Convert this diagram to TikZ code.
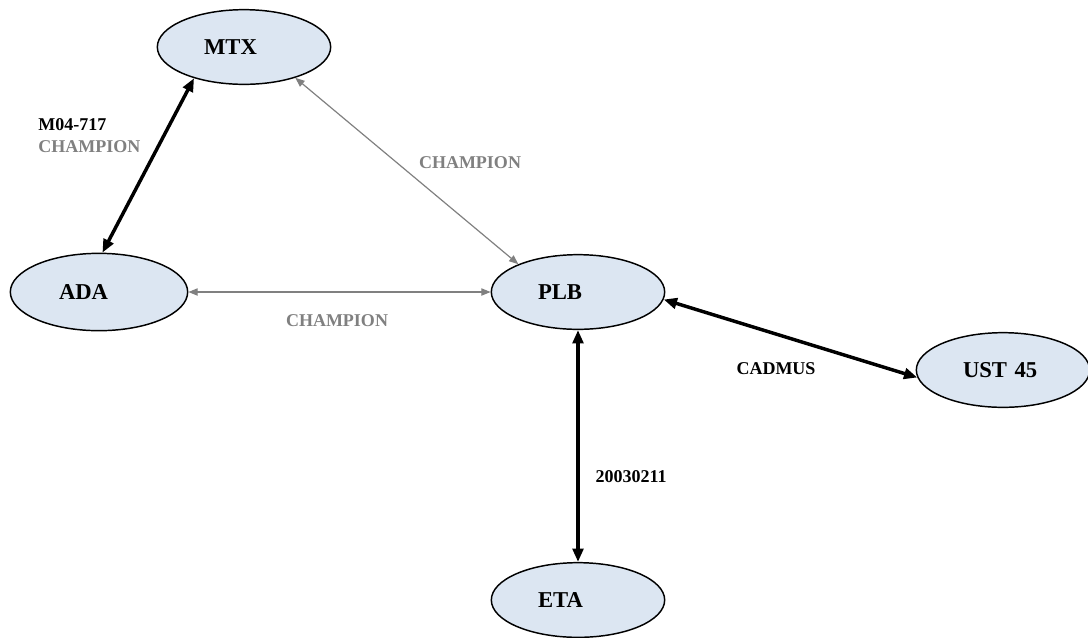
\documentclass[tikz,border=0pt]{standalone}
\usepackage{fontspec}
\setmainfont{Liberation Serif}
\usetikzlibrary{shapes.geometric,arrows.meta}
\definecolor{sitefill}{RGB}{220,230,242}
\definecolor{linkgray}{RGB}{128,128,128}

\begin{document}
\begin{tikzpicture}[
  x=0.75pt,y=-0.75pt,
  site/.style={ellipse, draw, line width=1.1pt, fill=sitefill, minimum width=130pt, minimum height=56pt, inner sep=0pt, text width=60pt, align=left, font=\fontsize{17}{20}\selectfont\bfseries},
  tag/.style={font=\fontsize{13.5}{16.5}\selectfont\bfseries, inner sep=0pt},
  strong/.style={{Triangle[length=10pt,width=8pt]}-{Triangle[length=10pt,width=8pt]}, line width=2.6pt},
  weak/.style={{Triangle[length=7pt,width=5.5pt]}-{Triangle[length=7pt,width=5.5pt]}, line width=0.9pt, draw=linkgray}
]
\useasboundingbox (0,0) rectangle (1088,637);

\node[site] (MTX) at (244,47) {MTX};
\node[site, minimum width=133pt, minimum height=58pt] (ADA) at (99,292) {ADA};
\node[site] (PLB) at (578,292) {PLB};
\node[site] (UST) at (1003,370) {UST 45};
\node[site] (ETA) at (578,600) {ETA};

\draw[strong] (ADA.85) -- (MTX.212);
\draw[weak] (MTX.-31) -- (PLB.155);
\draw[weak] (ADA.east) -- (PLB.west);
\draw[strong] (PLB.-5) -- (UST.185);
\draw[strong] (PLB.south) -- (ETA.north);

\node[tag, align=left, anchor=west] (lblA) at (38,136) {M04-717\\\textcolor{linkgray}{CHAMPION}};
\node[tag, text=linkgray] (lblB) at (470,163) {CHAMPION};
\node[tag, text=linkgray] (lblC) at (337,321) {CHAMPION};
\node[tag] (lblD) at (776,369) {CADMUS};
\node[tag] (lblE) at (631,477) {20030211};
\end{tikzpicture}
\end{document}
